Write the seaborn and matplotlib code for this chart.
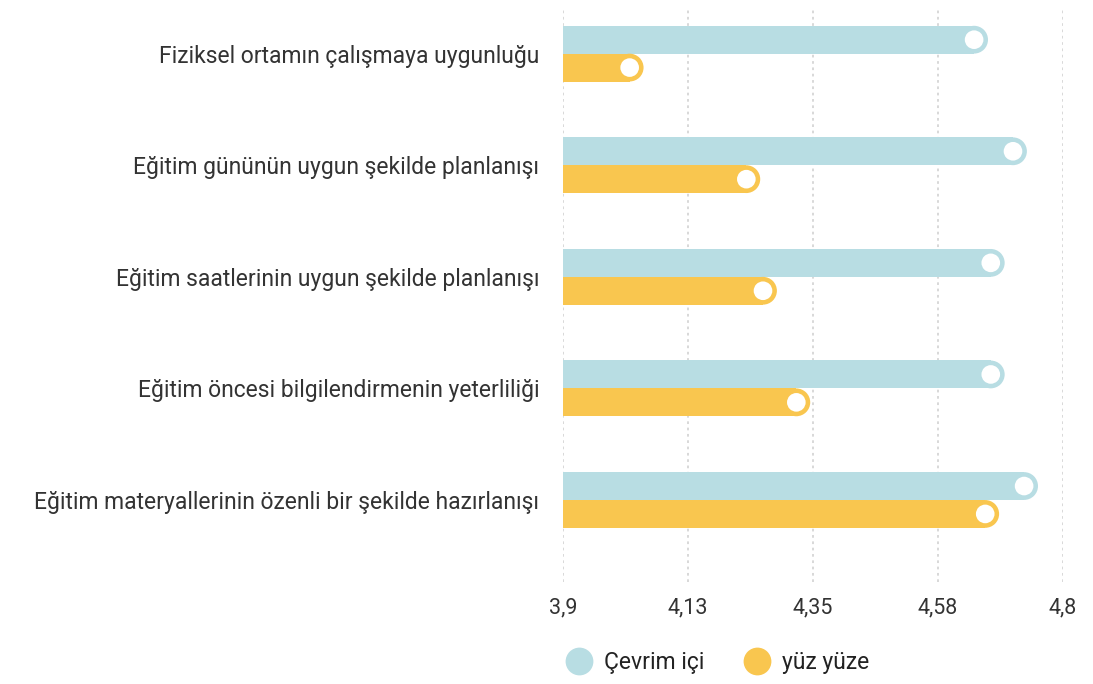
import numpy as np
import pandas as pd
import matplotlib
matplotlib.use("Agg")
import matplotlib.pyplot as plt
from matplotlib.lines import Line2D
import seaborn as sns

# ---------------------------------------------------------------
# Datos
# ---------------------------------------------------------------
kriterler = [
    "Fiziksel ortamın çalışmaya uygunluğu",
    "Eğitim gününün uygun şekilde planlanışı",
    "Eğitim saatlerinin uygun şekilde planlanışı",
    "Eğitim öncesi bilgilendirmenin yeterliliği",
    "Eğitim materyallerinin özenli bir şekilde hazırlanışı",
]
cevrim_ici = [4.64, 4.71, 4.67, 4.67, 4.73]
yuz_yuze = [4.02, 4.23, 4.26, 4.32, 4.66]
gruplar = ["Çevrim içi", "yüz yüze"]
renkler = ["#b8dde3", "#f9c64f"]

x_ticks = np.linspace(3.9, 4.8, 5)
x_labels = ["3,9", "4,13", "4,35", "4,58", "4,8"]

df = pd.DataFrame({
    "kriter": kriterler * 2,
    "puan": cevrim_ici + yuz_yuze,
    "grup": [gruplar[0]] * len(kriterler) + [gruplar[1]] * len(kriterler),
})

sns.set_theme(style="white")
plt.rcParams["font.family"] = ["Roboto", "DejaVu Sans"]

fig = plt.figure(figsize=(10.93, 6.84), dpi=100)
ax = fig.add_axes([563 / 1093, 1 - 582 / 684, 500 / 1093, (582 - 9) / 684])

# grid punteado detrás de las barras
for t in x_ticks:
    ax.axvline(t, color="#d6d6d6", lw=1.3, ls=(0, (1.5, 2)), zorder=0)

sns.barplot(data=df, x="puan", y="kriter", hue="grup", hue_order=gruplar,
            palette=renkler, orient="h", width=0.5, saturation=1,
            linewidth=0, legend=False, ax=ax, zorder=2)

# extremos redondeados + círculo blanco
pos = np.arange(len(kriterler))
for i, (vals, color) in enumerate(zip([cevrim_ici, yuz_yuze], renkler)):
    y = pos + (i - 0.5) * 0.25
    ax.scatter(vals, y, s=400, color=color, edgecolors="none", zorder=3)
    ax.scatter(vals, y, s=180, color="white", edgecolors="none", zorder=4)

ax.set_xlim(3.9, 4.8)
ax.set_ylim(4.735, -0.40)
ax.set_xticks(x_ticks)
ax.set_xticklabels(x_labels)
ax.set_xlabel("")
ax.set_ylabel("")
ax.tick_params(axis="x", length=0, pad=11, labelsize=15.5, labelcolor="#333333")
ax.tick_params(axis="y", length=0, pad=17, labelsize=16.5, labelcolor="#333333")
sns.despine(ax=ax, left=True, bottom=True)

handles = [Line2D([0], [0], marker="o", ls="none", markersize=20,
                  markerfacecolor=c, markeredgecolor="none") for c in renkler]
fig.legend(handles, gruplar, loc="center left",
           bbox_to_anchor=(535 / 1093, 1 - 663 / 684), ncol=2, frameon=False,
           fontsize=16.5, handletextpad=0.1, columnspacing=1.3,
           labelcolor="#222222")

plt.savefig("out.png", dpi=100)
plt.close()
